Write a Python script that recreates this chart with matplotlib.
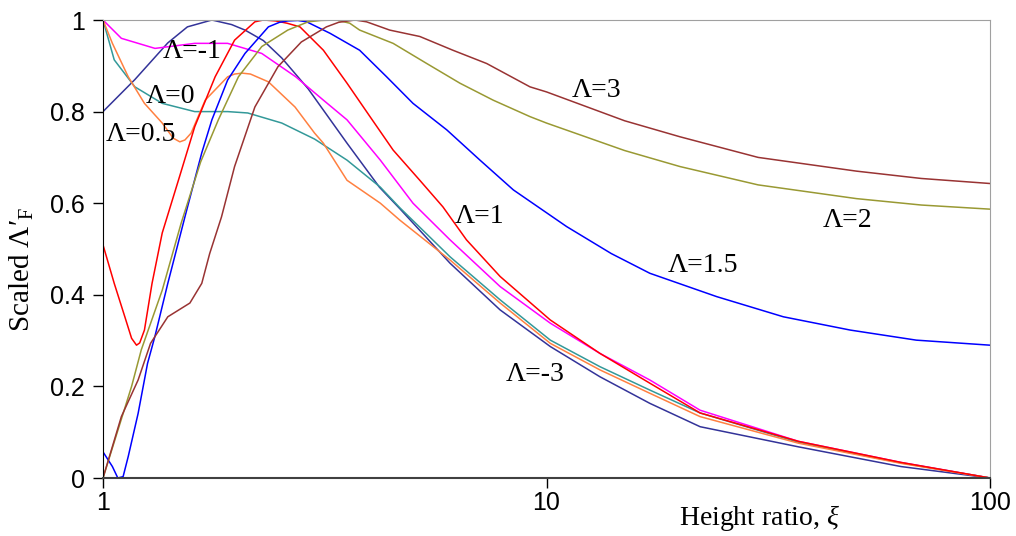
import matplotlib
matplotlib.use("Agg")
import matplotlib.pyplot as plt

plt.rcParams['mathtext.fontset'] = 'custom'
plt.rcParams['mathtext.rm'] = 'Liberation Serif'
plt.rcParams['mathtext.it'] = 'Liberation Serif:italic'

# Data (x = height ratio, y = scaled value)
x_m3 = [1, 1.18, 1.40, 1.55, 1.76, 1.95, 2.09, 2.3, 2.53, 2.9, 3.55, 4.2, 4.67, 6.06, 7.86, 10.2, 13.2, 17.1, 22.2, 37, 63, 100]
y_m3 = [0.8, 0.87, 0.95, 0.985, 1.0, 0.99, 0.978, 0.955, 0.917, 0.85, 0.731, 0.635, 0.588, 0.469, 0.367, 0.287, 0.221, 0.163, 0.112, 0.068, 0.025, 0.0]

x_m1 = [1, 1.10, 1.31, 1.61, 1.91, 2.28, 2.72, 3.14, 3.55, 4.22, 5.0, 6.06, 7.86, 10.2, 13.2, 17.1, 22.2, 37, 63, 100]
y_m1 = [1.0, 0.96, 0.938, 0.949, 0.949, 0.927, 0.876, 0.825, 0.782, 0.694, 0.60, 0.52, 0.418, 0.338, 0.272, 0.214, 0.148, 0.08, 0.034, 0.0]

x_0 = [1, 1.06, 1.18, 1.36, 1.61, 1.91, 2.12, 2.53, 3.0, 3.55, 4.22, 4.67, 6.06, 7.86, 10.2, 13.2, 17.1, 22.2, 37, 63, 100]
y_0 = [1.0, 0.913, 0.854, 0.818, 0.80, 0.80, 0.797, 0.775, 0.74, 0.694, 0.635, 0.59, 0.483, 0.389, 0.301, 0.243, 0.192, 0.142, 0.078, 0.033, 0.0]

x_05 = [1, 1.05, 1.14, 1.24, 1.36, 1.44, 1.49, 1.53, 1.58, 1.70, 1.91, 1.98, 2.06, 2.15, 2.36, 2.71, 3.0, 3.14, 3.55, 4.22, 4.67, 6.06, 7.86, 10.2, 13.2, 17.1, 22.2, 37, 63, 100]
y_05 = [1.0, 0.949, 0.876, 0.818, 0.775, 0.742, 0.734, 0.738, 0.753, 0.825, 0.876, 0.882, 0.884, 0.882, 0.865, 0.81, 0.753, 0.731, 0.65, 0.60, 0.563, 0.476, 0.382, 0.294, 0.236, 0.185, 0.134, 0.076, 0.032, 0.0]

x_1 = [1, 1.06, 1.12, 1.16, 1.19, 1.21, 1.24, 1.29, 1.36, 1.49, 1.61, 1.79, 1.98, 2.2, 2.3, 2.45, 2.6, 2.78, 3.14, 3.55, 4.0, 4.51, 5.18, 5.84, 6.6, 7.86, 10.2, 13.2, 17.1, 22.2, 37, 63, 100]
y_1 = [0.509, 0.425, 0.352, 0.305, 0.29, 0.295, 0.323, 0.425, 0.535, 0.66, 0.767, 0.876, 0.956, 0.996, 1.0, 0.998, 0.993, 0.985, 0.934, 0.862, 0.789, 0.716, 0.65, 0.592, 0.52, 0.44, 0.345, 0.272, 0.207, 0.142, 0.08, 0.034, 0.0]

x_15 = [1, 1.05, 1.08, 1.11, 1.14, 1.2, 1.26, 1.31, 1.40, 1.53, 1.67, 1.76, 1.91, 2.09, 2.36, 2.5, 2.61, 2.75, 2.88, 3.25, 3.79, 4.36, 5.0, 5.96, 7.08, 8.42, 11.1, 14, 17.1, 24.2, 34.2, 48.4, 68.2, 100]
y_15 = [0.057, 0.025, 0.0, 0.003, 0.047, 0.141, 0.25, 0.31, 0.425, 0.57, 0.71, 0.782, 0.869, 0.927, 0.985, 0.995, 0.998, 0.999, 0.996, 0.971, 0.934, 0.876, 0.818, 0.76, 0.694, 0.629, 0.549, 0.49, 0.447, 0.396, 0.352, 0.323, 0.301, 0.29]

x_2 = [1, 1.16, 1.22, 1.36, 1.50, 1.66, 1.82, 2.02, 2.28, 2.61, 2.9, 3.1, 3.36, 3.6, 3.79, 4.51, 5.37, 6.38, 7.58, 9.18, 10, 15, 20, 30, 50, 70, 100]
y_2 = [0.0, 0.2, 0.28, 0.41, 0.556, 0.69, 0.782, 0.876, 0.942, 0.978, 0.996, 0.999, 1.0, 0.993, 0.978, 0.949, 0.905, 0.862, 0.825, 0.789, 0.775, 0.715, 0.68, 0.64, 0.61, 0.596, 0.587]

x_3 = [1, 1.10, 1.2, 1.28, 1.40, 1.57, 1.67, 1.74, 1.85, 1.98, 2.2, 2.48, 2.8, 3.19, 3.4, 3.7, 3.93, 4.43, 5.18, 6.15, 7.33, 9.18, 10, 15, 20, 30, 50, 70, 100]
y_3 = [0, 0.134, 0.214, 0.294, 0.352, 0.382, 0.425, 0.49, 0.57, 0.68, 0.81, 0.898, 0.952, 0.985, 0.995, 1.0, 0.996, 0.978, 0.964, 0.934, 0.905, 0.854, 0.843, 0.78, 0.745, 0.70, 0.67, 0.654, 0.643]

labels = ["Λ=-3", "Λ=-1", "Λ=0", "Λ=0.5", "Λ=1", "Λ=1.5", "Λ=2", "Λ=3"]
label_x = [9.42, 1.59, 1.42, 1.22, 7.08, 22.5, 47.8, 13.0]
label_y = [0.225, 0.932, 0.832, 0.751, 0.572, 0.463, 0.563, 0.845]

colors = ['#333399', '#ff00ff', '#339999', '#ff8040', '#ff0000', '#0000ff', '#999933', '#993333']
xs = [x_m3, x_m1, x_0, x_05, x_1, x_15, x_2, x_3]
ys = [y_m3, y_m1, y_0, y_05, y_1, y_15, y_2, y_3]

fig = plt.figure(figsize=(10.16, 5.36), dpi=100)
ax = fig.add_axes([103/1016, 58/536, 887/1016, 458/536])

for x, y, c in zip(xs, ys, colors):
    ax.plot(x, y, color=c, linewidth=1.1)

for t, lx, ly in zip(labels, label_x, label_y):
    ax.text(lx, ly, t, ha='center', va='center', fontsize=20, family='Liberation Serif')

ax.set_xscale('log')
ax.set_xlim(1, 100)
ax.set_ylim(0, 1)
ax.set_xticks([1, 10, 100])
ax.set_xticklabels(["1", "10", "100"])
ax.xaxis.set_minor_locator(matplotlib.ticker.NullLocator())
ax.set_yticks([0, 0.2, 0.4, 0.6, 0.8, 1])
ax.set_yticklabels(["0", "0.2", "0.4", "0.6", "0.8", "1"])
ax.tick_params(labelsize=18, length=7, width=1, direction='out')
ax.tick_params(axis='x', pad=2.5)
ax.tick_params(axis='y', pad=6)
for lab in ax.get_xticklabels() + ax.get_yticklabels():
    lab.set_family('Liberation Sans')

ax.spines['left'].set_color('black')
ax.spines['bottom'].set_color('#404040')
ax.spines['bottom'].set_linewidth(1.5)
ax.spines['top'].set_color('#a0a0a0')
ax.spines['right'].set_color('#a0a0a0')

ax.set_xlabel(r"Height ratio, $\mathit{\xi}$", fontsize=20, family='Liberation Serif')
ax.set_ylabel(r"Scaled $\mathit{\Lambda}$′$_{\mathrm{F}}$", fontsize=21, family='Liberation Serif')
ax.xaxis.set_label_coords(0.74, -0.055)
ax.yaxis.set_label_coords(-0.075, 0.455)

fig.savefig("out.png", dpi=100)
